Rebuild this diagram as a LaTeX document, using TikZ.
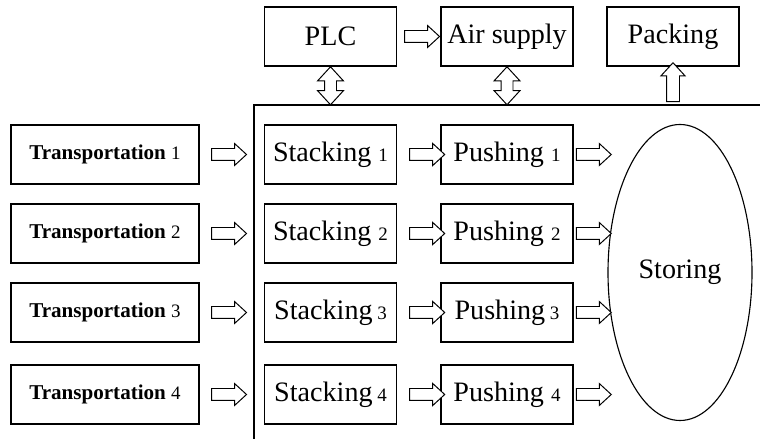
\documentclass[tikz,border=0pt]{standalone}
\usepackage{fontspec}
\setmainfont{Liberation Serif}
\usetikzlibrary{calc,shapes.geometric,shapes.arrows}
\tikzset{
  unit/.style={draw, line width=0.8pt, minimum width=3.3cm, minimum height=1.475cm,
               inner sep=0pt, font=\fontsize{20}{22}\selectfont},
  trans/.style={unit, minimum width=4.7cm, font=\fontsize{15}{17}\selectfont\bfseries},
  store/.style={draw, line width=0.8pt, ellipse, minimum width=3.6cm, minimum height=7.4cm,
                inner sep=0pt, font=\fontsize{20}{22}\selectfont},
  flow/.style={single arrow, draw, line width=0.7pt, fill=white, inner sep=0.1375cm,
               minimum height=0.875cm, single arrow head extend=0.125cm,
               single arrow tip angle=85},
  rise/.style={flow, shape border rotate=90, minimum height=0.975cm, inner sep=0.15cm,
               single arrow head extend=0.14cm},
  link/.style={double arrow, draw, line width=0.7pt, fill=white, inner sep=0.1375cm,
               shape border rotate=90, minimum height=0.95cm,
               double arrow head extend=0.175cm, double arrow tip angle=85},
  wall/.style={line width=0.8pt}
}
\newcommand{\idx}[1]{{\fontsize{13.5}{15}\selectfont\mdseries #1}}

\begin{document}
\begin{tikzpicture}
\useasboundingbox (0,0) rectangle (19,10.975);
% control and supply units on top
\node[unit] (plc)  at (8.2625,10.0625) {PLC};
\node[unit] (air)  at (12.675,10.0625) {Air supply};
\node[unit] (pack) at (16.825,10.0625) {Packing};
\node[flow] (pa) at ($(plc.east)!0.5!(air.west)$) {};
% open frame round the line
\coordinate (top) at (6.35,8.35);
\draw[wall] (6.35,0) -- (top) -- (19,8.35);
% four lines: transport, stacking, pushing
\node[trans] (t1) at (2.625,7.1125) {Transportation \idx{1}};
\node[trans] (t2) at (2.625,5.1375) {Transportation \idx{2}};
\node[trans] (t3) at (2.625,3.1625) {Transportation \idx{3}};
\node[trans] (t4) at (2.625,1.1125) {Transportation \idx{4}};
\node[unit] (s1) at (8.2625,7.1125) {Stacking \idx{1}};
\node[unit] (s2) at (8.2625,5.1375) {Stacking \idx{2}};
\node[unit] (s3) at (8.2625,3.1625) {Stacking\,\idx{3}};
\node[unit] (s4) at (8.2625,1.1125) {Stacking\,\idx{4}};
\node[unit] (p1) at (12.675,7.1125) {Pushing \idx{1}};
\node[unit] (p2) at (12.675,5.1375) {Pushing \idx{2}};
\node[unit] (p3) at (12.675,3.1625) {Pushing\,\idx{3}};
\node[unit] (p4) at (12.675,1.1125) {Pushing \idx{4}};
\node[store] (st) at (17.0,4.1625) {Storing};
% hollow arrows between the units
\node[flow, xshift=-0.15cm] (ts1) at ($(t1.east)!0.5!(s1.west)$) {};
\node[flow, xshift=-0.15cm] (ts2) at ($(t2.east)!0.5!(s2.west)$) {};
\node[flow, xshift=-0.15cm] (ts3) at ($(t3.east)!0.5!(s3.west)$) {};
\node[flow, xshift=-0.15cm] (ts4) at ($(t4.east)!0.5!(s4.west)$) {};
\node[flow, xshift=0.13cm] (sp1) at ($(s1.east)!0.5!(p1.west)$) {};
\node[flow, xshift=0.13cm] (sp2) at ($(s2.east)!0.5!(p2.west)$) {};
\node[flow, xshift=0.13cm] (sp3) at ($(s3.east)!0.5!(p3.west)$) {};
\node[flow, xshift=0.13cm] (sp4) at ($(s4.east)!0.5!(p4.west)$) {};
\node[flow] (ps1) at ($(p1.east)!0.5!(p1.east -| st.west)$) {};
\node[flow] (ps2) at ($(p2.east)!0.5!(p2.east -| st.west)$) {};
\node[flow] (ps3) at ($(p3.east)!0.5!(p3.east -| st.west)$) {};
\node[flow] (ps4) at ($(p4.east)!0.5!(p4.east -| st.west)$) {};
% links through the top of the frame
\node[link] (l1) at ($(plc.south)!0.5!(plc.south |- top)$) {};
\node[link] (l2) at ($(air.south)!0.5!(air.south |- top)$) {};
\node[rise] (l3) at ($(pack.south)!0.5!(pack.south |- top)$) {};
\end{tikzpicture}
\end{document}
